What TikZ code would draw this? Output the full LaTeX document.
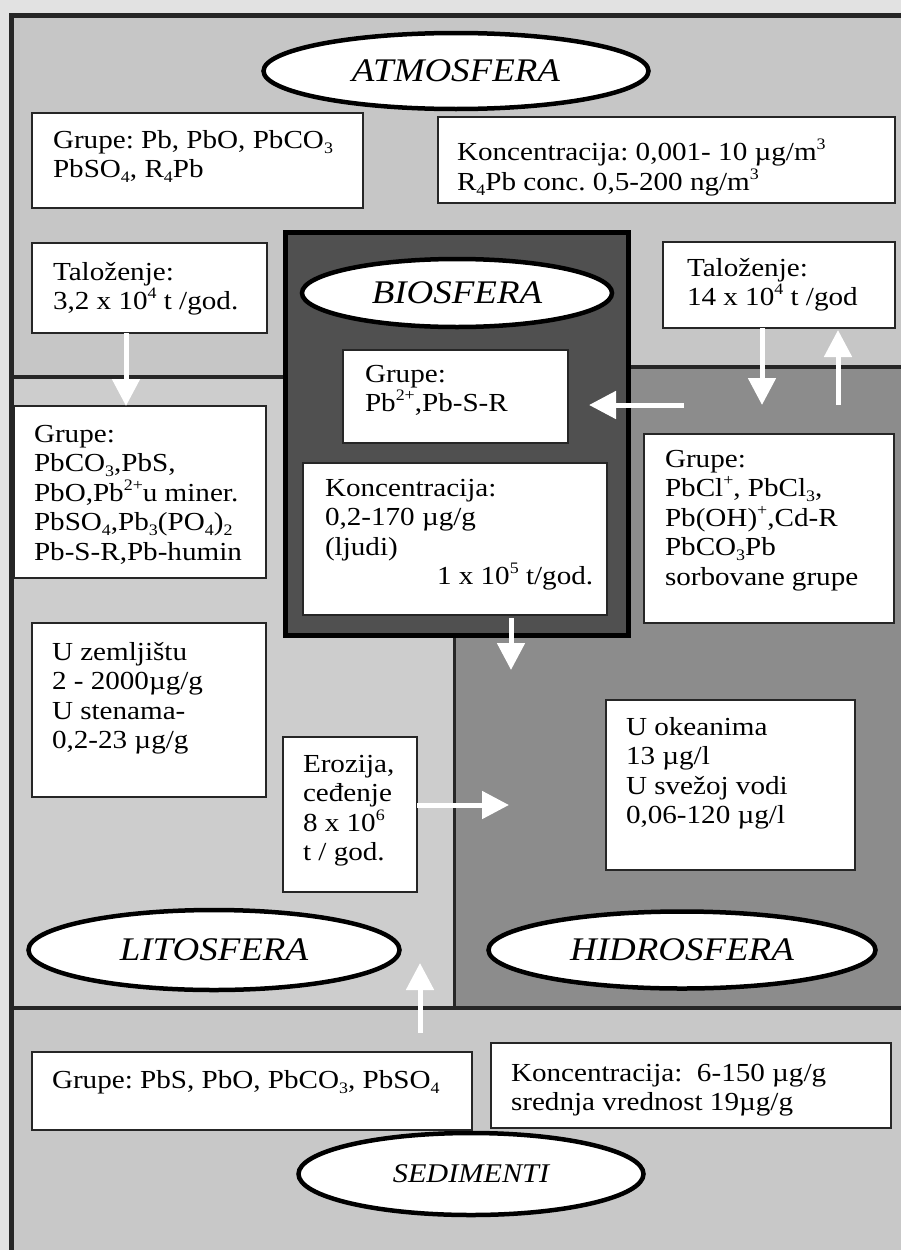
\documentclass[tikz,border=0pt]{standalone}
\usepackage{fontspec}
\setmainfont{Liberation Serif}[FakeStretch=1.12]
\usetikzlibrary{arrows.meta,shapes.geometric}

\definecolor{paper}{HTML}{E2E2E2}
\definecolor{atmo}{HTML}{C6C6C6}
\definecolor{lito}{HTML}{CDCDCD}
\definecolor{hidro}{HTML}{8C8C8C}
\definecolor{bio}{HTML}{505050}
\definecolor{sedi}{HTML}{C8C8C8}

% small lowered and raised indices for chemical formulas and powers
\newcommand\lo[1]{\raisebox{-0.2em}{\fontsize{16}{16}\selectfont #1}}
\newcommand\hi[1]{\raisebox{0.42em}{\fontsize{16}{16}\selectfont #1}}

\begin{document}
\frenchspacing
\begin{tikzpicture}[x=1pt,y=-1pt,
  every node/.style={inner sep=0pt, outer sep=0pt},
  infobox/.style={rectangle, draw=black!85, line width=2pt, fill=white, anchor=north west},
  txt/.style={anchor=north west, align=left, font=\fontsize{26}{29.5}\selectfont},
  sphere/.style={ellipse, draw=black, line width=4.5pt, fill=white,
    font=\itshape\fontsize{33}{36}\selectfont},
  flow/.style={draw=white, line width=5pt, -{Triangle[width=27pt,length=27pt]}},
  divider/.style={draw=black!85, line width=4pt}
]
% page and the four zones
\fill[paper] (0,0) rectangle (901,1250);
\useasboundingbox (0,0) rectangle (901,1250);
\fill[atmo] (11,15) rectangle (901,377);
\fill[lito] (11,377) rectangle (454,1008);
\fill[hidro] (628,367) -- (901,367) -- (901,1008) -- (454,1008) -- (454,635) -- (628,635) -- cycle;
\fill[sedi] (11,1008) rectangle (901,1250);

% zone boundaries and outer frame
\draw[divider] (11,377) -- (285,377);
\draw[divider] (628,367) -- (901,367);
\draw[divider, line width=3pt] (454,635) -- (454,1008);
\draw[divider] (11,1008) -- (901,1008);
\draw[divider, line width=5pt] (11,1250) -- (11,15) -- (901,15);

% biosphere block
\draw[black, line width=5pt, fill=bio] (285,232) rectangle (628,635);

% sphere labels
\node[sphere, minimum width=385, minimum height=76] (atm) at (456,71) {ATMOSFERA};
\node[sphere, minimum width=310, minimum height=68] (bios) at (457,293) {BIOSFERA};
\node[sphere, minimum width=371, minimum height=80] (lit) at (214,950) {LITOSFERA};
\node[sphere, minimum width=387, minimum height=77] (hid) at (682,950) {HIDROSFERA};
\node[sphere, minimum width=345, minimum height=82, font=\itshape\fontsize{27}{30}\selectfont] (sed) at (471,1174) {SEDIMENTI};

% atmosphere
\node[infobox, minimum width=331, minimum height=95] (atmG) at (32,113) {};
\node[txt] at (53,130) {Grupe: Pb, PbO, PbCO\lo{3}\\PbSO\lo{4}, R\lo{4}Pb};
\node[infobox, minimum width=457, minimum height=86] (atmK) at (438,117) {};
\node[txt] at (457,139) {Koncentracija: 0,001- 10 µg/m\hi{3}\\R\lo{4}Pb conc. 0,5-200 ng/m\hi{3}};
\node[infobox, minimum width=235, minimum height=90] (talL) at (32,243) {};
\node[txt] at (53,262) {Taloženje:\\3,2 x 10\hi{4} t /god.};
\node[infobox, minimum width=232, minimum height=86] (talR) at (663,242) {};
\node[txt] at (687,258) {Taloženje:\\14 x 10\hi{4} t /god};

% biosphere
\node[infobox, minimum width=225, minimum height=93] (bioG) at (343,350) {};
\node[txt] at (365,365) {Grupe:\\Pb\hi{2+},Pb-S-R};
\node[infobox, minimum width=304, minimum height=152] (bioK) at (303,463) {};
\node[txt] at (325,479) {Koncentracija:\\0,2-170 µg/g\\(ljudi)\\\hspace*{112pt}1 x 10\hi{5} t/god.};

% lithosphere
\node[infobox, minimum width=252, minimum height=172] (litG) at (14,406) {};
\node[txt] at (34,425) {Grupe:\\PbCO\lo{3},PbS,\\PbO,Pb\hi{2+}u miner.\\PbSO\lo{4},Pb\lo{3}(PO\lo{4})\lo{2}\\Pb-S-R,Pb-humin};
\node[infobox, minimum width=234, minimum height=174] (litK) at (32,623) {};
\node[txt] at (52,642) {U zemljištu\\2 - 2000µg/g\\U stenama-\\0,2-23 µg/g};
\node[infobox, minimum width=134, minimum height=155] (eroz) at (283,737) {};
\node[txt] at (303,755) {Erozija,\\ceđenje\\8 x 10\hi{6}\\t / god.};

% hydrosphere
\node[infobox, minimum width=250, minimum height=189] (hidG) at (644,434) {};
\node[txt] at (665,450) {Grupe:\\PbCl\hi{+}, PbCl\lo{3},\\Pb(OH)\hi{+},Cd-R\\PbCO\lo{3}Pb\\sorbovane grupe};
\node[infobox, minimum width=249, minimum height=170] (hidK) at (606,700) {};
\node[txt] at (626,717) {U okeanima\\13 µg/l\\U svežoj vodi\\0,06-120 µg/l};

% sediments
\node[infobox, minimum width=440, minimum height=78] (sedG) at (32,1052) {};
\node[txt] at (52,1070) {Grupe: PbS, PbO, PbCO\lo{3}, PbSO\lo{4}};
\node[infobox, minimum width=400, minimum height=85] (sedK) at (491,1043) {};
\node[txt] at (511,1064) {Koncentracija:\ \ 6-150 µg/g\\srednja vrednost 19µg/g};

% flows between the spheres
\coordinate (f1) at (126,406);
\coordinate (f2) at (762,405);
\coordinate (f3s) at (838,405);
\coordinate (f3) at (838,330);
\coordinate (f4s) at (684,405);
\coordinate (f4) at (589,405);
\coordinate (f5) at (511,670);
\coordinate (f6) at (509,805);
\coordinate (f7s) at (420,1033);
\coordinate (f7) at (420,963);
\draw[flow] (talL.south -| f1) -- (f1);
\draw[flow] (talR.south -| f2) -- (f2);
\draw[flow] (f3s) -- (f3);
\draw[flow] (f4s) -- (f4);
\draw[flow] ([yshift=-3pt]bioK.south -| f5) -- (f5);
\draw[flow] (eroz.east |- f6) -- (f6);
\draw[flow] (f7s) -- (f7);
\end{tikzpicture}
\end{document}
